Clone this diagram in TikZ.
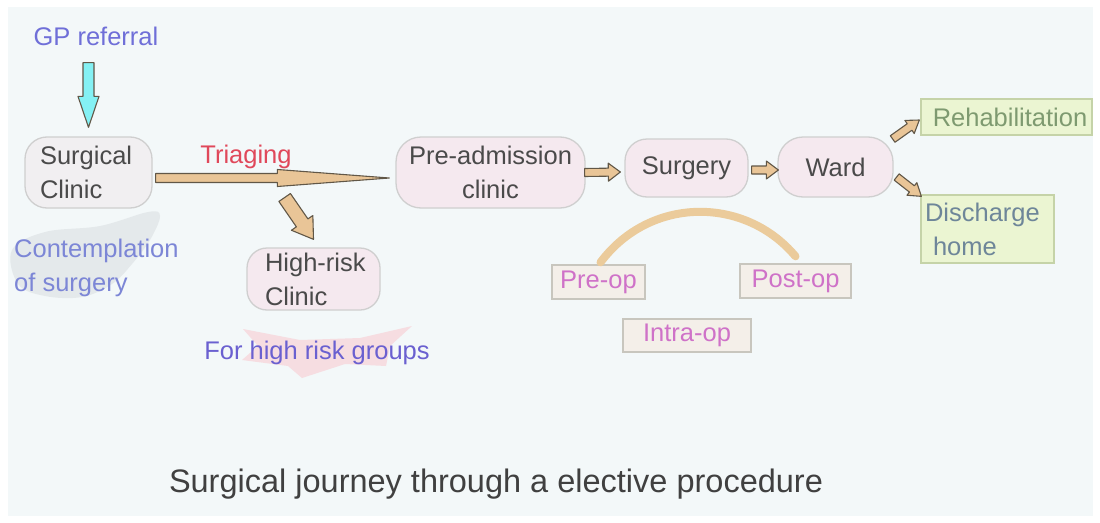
\documentclass[tikz,border=0pt]{standalone}
\usepackage{fontspec}
\setmainfont{Liberation Sans}
\usetikzlibrary{calc}
\definecolor{panel}{HTML}{F3F8F9}
\definecolor{tanfill}{HTML}{E9C597}
\definecolor{tanline}{HTML}{615747}
\definecolor{arcc}{HTML}{EBCB9B}
\definecolor{cyanfill}{HTML}{84F1F4}
\definecolor{nodetext}{HTML}{4A4A4A}
\definecolor{scfill}{HTML}{F1EFF1}
\definecolor{pinkfill}{HTML}{F5E9EF}
\definecolor{boxline}{HTML}{CFCFCF}
\definecolor{greenfill}{HTML}{EBF5D2}
\definecolor{greenline}{HTML}{C5D3A8}
\definecolor{opfill}{HTML}{F4EFE9}
\definecolor{opline}{HTML}{C8C6BE}
\definecolor{optext}{HTML}{CF72C8}
\definecolor{gptext}{HTML}{6F6FD8}
\definecolor{context}{HTML}{7C86D6}
\definecolor{hrtext}{HTML}{6A60D0}
\definecolor{triage}{HTML}{E0485A}
\definecolor{rehtext}{HTML}{7E9A70}
\definecolor{distext}{HTML}{6E8699}
\definecolor{captext}{HTML}{404040}
\definecolor{greyblob}{HTML}{E4E9EB}
\definecolor{pinkblob}{HTML}{F6DDE1}
\newcommand\blockarrow[6]{%
  \coordinate (bah) at ($(#3)!#6pt!(#2)$);
  \filldraw[#1] ($(#2)!#4pt!90:(#3)$) -- ($(bah)!#4pt!90:(#3)$) -- ($(bah)!#5pt!90:(#3)$) -- (#3)
    -- ($(bah)!#5pt!-90:(#3)$) -- ($(bah)!#4pt!-90:(#3)$) -- ($(#2)!#4pt!-90:(#3)$) -- cycle;
}
\tikzset{
  txt/.style={font=\fontsize{25.5pt}{34pt}\selectfont, inner sep=0pt},
  rbox/.style={txt, draw=boxline, line width=1.3pt, text=nodetext},
  gbox/.style={txt, draw=greenline, fill=greenfill, line width=1.3pt, inner sep=0pt},
  opbox/.style={txt, draw=opline, fill=opfill, line width=1.3pt, text=optext, inner sep=0pt},
  tanarrow/.style={fill=tanfill, draw=tanline, line width=1.1pt, line join=round},
  cyanarrow/.style={fill=cyanfill, draw=tanline, line width=1.1pt, line join=round},
}
\begin{document}
\begin{tikzpicture}[x=1pt,y=-1pt]
\useasboundingbox (0,0) rectangle (1100,522);
\fill[white] (0,0) rectangle (1100,522);
\fill[panel] (8,7) rectangle (1093,516);

% background blobs
\fill[greyblob] plot[smooth cycle, tension=0.6] coordinates {(12,250) (45,232) (100,226) (148,212) (160,216) (150,240) (132,264) (112,284) (82,297) (45,296) (18,284)};
\fill[pinkblob] (243,329) -- (300,340) -- (360,338) -- (412,326) -- (390,346) -- (386,366) -- (345,364) -- (302,378) -- (288,366) -- (242,360) -- (258,346) -- cycle;

% text labels
\node[txt, text=gptext] (gp) at (96,36) {GP referral};
\node[txt, text=triage] (tr) at (246,157) {Triaging};
\node[txt, text=context, align=left, anchor=west] (ct) at (14,268) {Contemplation\\of surgery};
\node[txt, text=hrtext] (fh) at (317,353) {For high risk groups};

% main nodes
\node[rbox, fill=scfill, rounded corners=22pt, minimum width=127pt, minimum height=71pt, text width=127pt, align=left] (sc) at (88.5,172.5) {\hspace{15pt}Surgical\\\hspace{15pt}Clinic};
\node[rbox, fill=pinkfill, rounded corners=20pt, minimum width=133pt, minimum height=62pt, text width=133pt, align=left] (hr) at (313.5,279) {\hspace{18pt}High-risk\\\hspace{18pt}Clinic};
\node[rbox, fill=pinkfill, rounded corners=25pt, minimum width=189pt, minimum height=71pt, align=center] (pa) at (490.5,172.5) {Pre-admission\\clinic};
\node[rbox, fill=pinkfill, rounded corners=22pt, minimum width=123pt, minimum height=58pt] (su) at (686.5,168) {Surgery};
\node[rbox, fill=pinkfill, rounded corners=25pt, minimum width=115pt, minimum height=60pt] (wa) at (835.5,167) {Ward};
\node[gbox, text=rehtext, minimum width=171pt, minimum height=36pt] (rh) at (1006.5,117) {\hspace{7pt}Rehabilitation};
\node[gbox, text=distext, minimum width=133pt, minimum height=68pt, text width=133pt, align=left] (dh) at (987.5,229) {\hspace{4pt}Discharge\\\hspace{12pt}home};
\node[opbox, minimum width=93pt, minimum height=34pt] (pre) at (598.5,282) {Pre-op};
\node[opbox, minimum width=111pt, minimum height=34pt] (post) at (795.5,281) {Post-op};
\node[opbox, minimum width=128pt, minimum height=33pt] (intra) at (687,335.5) {Intra-op};

% caption
\node[txt, font=\fontsize{32.5pt}{38pt}\selectfont, text=captext] (cap) at (496,484) {Surgical journey through a elective procedure};

% connector end points
\coordinate (gpA) at ($(gp.south -| sc.north)+(0,17)$);
\coordinate (gpB) at ($(sc.north)+(0,-9)$);
\coordinate (trA) at ($(sc.east)+(3,5.5)$);
\coordinate (trB) at ($(pa.west)+(-6,5.5)$);
\coordinate (hrA) at ($(sc.east)+(132,25)$);
\coordinate (hrB) at ($(hr.north)+(0,-8)$);
\coordinate (paA) at ($(pa.east)+(-1,0)$);
\coordinate (paB) at ($(su.west)+(-4,4)$);
\coordinate (suA) at ($(su.east)+(3,2)$);
\coordinate (suB) at ($(wa.west)+(1,3)$);
\coordinate (waR1) at ($(wa.east)+(-1,-28)$);
\coordinate (waR2) at ($(rh.west)+(-1,3)$);
\coordinate (waD1) at ($(wa.east)+(3,10)$);
\coordinate (waD2) at ($(dh.north west)+(1,2)$);
\coordinate (arcA) at ($(pre.north)+(2,-2)$);
\coordinate (arcB) at ($(post.north)+(0,-7)$);

% connectors
\blockarrow{cyanarrow}{gpA}{gpB}{5.5}{10.5}{31}
\blockarrow{tanarrow}{trA}{trB}{4.5}{8.5}{112}
\blockarrow{tanarrow}{hrA}{hrB}{7}{13}{20}
\blockarrow{tanarrow}{paA}{paB}{4}{9}{12}
\blockarrow{tanarrow}{suA}{suB}{4}{9}{12}
\blockarrow{tanarrow}{waR1}{waR2}{4}{8}{12}
\blockarrow{tanarrow}{waD1}{waD2}{4}{8}{12}
\draw[arcc, line width=8pt, line cap=round] (arcA) .. controls (650,196) and (745,196) .. (arcB);
\end{tikzpicture}
\end{document}
